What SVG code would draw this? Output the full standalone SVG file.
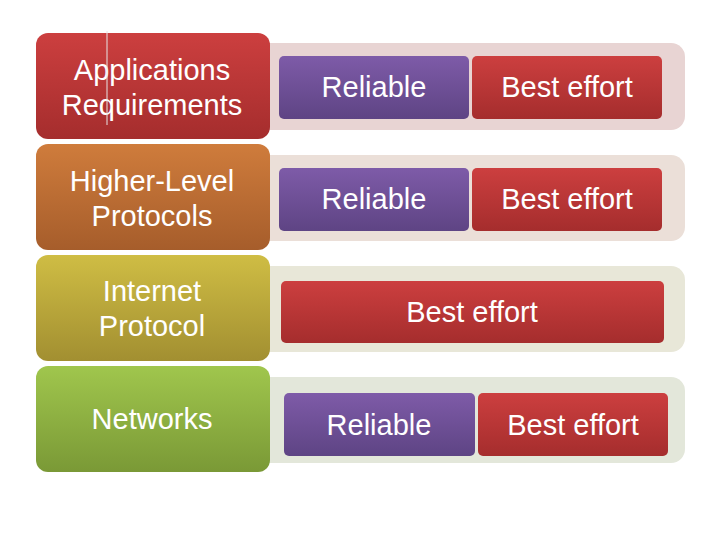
<svg xmlns="http://www.w3.org/2000/svg" width="720" height="540" viewBox="0 0 720 540">
<defs>
<linearGradient id="gRed" x1="0" y1="0" x2="0" y2="1"><stop offset="0" stop-color="#cc3f3f"/><stop offset="1" stop-color="#a52d2d"/></linearGradient>
<linearGradient id="gOrange" x1="0" y1="0" x2="0" y2="1"><stop offset="0" stop-color="#cf7c3c"/><stop offset="1" stop-color="#a65d2b"/></linearGradient>
<linearGradient id="gYellow" x1="0" y1="0" x2="0" y2="1"><stop offset="0" stop-color="#cfbd44"/><stop offset="1" stop-color="#a28f31"/></linearGradient>
<linearGradient id="gGreen" x1="0" y1="0" x2="0" y2="1"><stop offset="0" stop-color="#a0c64d"/><stop offset="1" stop-color="#7a9936"/></linearGradient>
<linearGradient id="gPurple" x1="0" y1="0" x2="0" y2="1"><stop offset="0" stop-color="#7e5ba8"/><stop offset="1" stop-color="#5e4484"/></linearGradient>
</defs>
<style>
.t{font-family:"Liberation Sans",Arial,sans-serif;font-size:29px;fill:#ffffff;text-anchor:middle}
.s{font-family:"Liberation Sans",Arial,sans-serif;font-size:29px;fill:#ffffff;text-anchor:middle}
</style>
<g id="bars">
<rect rx="14" x="255" y="43" width="430" height="87" fill="#e8d4d3"/>
<rect rx="14" x="255" y="155" width="430" height="86" fill="#ebdfd8"/>
<rect rx="14" x="255" y="266" width="430" height="86" fill="#e8e7d8"/>
<rect rx="14" x="255" y="377" width="430" height="86" fill="#e3e7da"/>
</g>
<g id="node-app">
<rect rx="12" x="36" y="33" width="234" height="106" fill="url(#gRed)"/>
<text class="t" x="152" y="80">Applications</text>
<text class="t" x="152" y="115">Requirements</text>
</g>
<g id="node-hlp">
<rect rx="12" x="36" y="144" width="234" height="106" fill="url(#gOrange)"/>
<text class="t" x="152" y="191">Higher-Level</text>
<text class="t" x="152" y="226">Protocols</text>
</g>
<g id="node-ip">
<rect rx="12" x="36" y="255" width="234" height="106" fill="url(#gYellow)"/>
<text class="t" x="152" y="301">Internet</text>
<text class="t" x="152" y="336">Protocol</text>
</g>
<g id="node-net">
<rect rx="12" x="36" y="366" width="234" height="106" fill="url(#gGreen)"/>
<text class="t" x="152" y="429">Networks</text>
</g>
<g id="row1-rel">
<rect rx="5" x="279" y="56" width="190" height="63" fill="url(#gPurple)"/>
<text class="s" x="374" y="97">Reliable</text>
</g>
<g id="row1-be">
<rect rx="5" x="472" y="56" width="190" height="63" fill="url(#gRed)"/>
<text class="s" x="567" y="97">Best effort</text>
</g>
<g id="row2-rel">
<rect rx="5" x="279" y="168" width="190" height="63" fill="url(#gPurple)"/>
<text class="s" x="374" y="209">Reliable</text>
</g>
<g id="row2-be">
<rect rx="5" x="472" y="168" width="190" height="63" fill="url(#gRed)"/>
<text class="s" x="567" y="209">Best effort</text>
</g>
<g id="row3-be">
<rect rx="5" x="281" y="281" width="383" height="62" fill="url(#gRed)"/>
<text class="s" x="472" y="322">Best effort</text>
</g>
<g id="row4-rel">
<rect rx="5" x="284" y="393" width="191" height="63" fill="url(#gPurple)"/>
<text class="s" x="379" y="435">Reliable</text>
</g>
<g id="row4-be">
<rect rx="5" x="478" y="393" width="190" height="63" fill="url(#gRed)"/>
<text class="s" x="573" y="435">Best effort</text>
</g>
<g id="connectors">
<line x1="107" y1="31" x2="107" y2="125" stroke="#e6e6e6" stroke-width="1"/>
</g>
</svg>
